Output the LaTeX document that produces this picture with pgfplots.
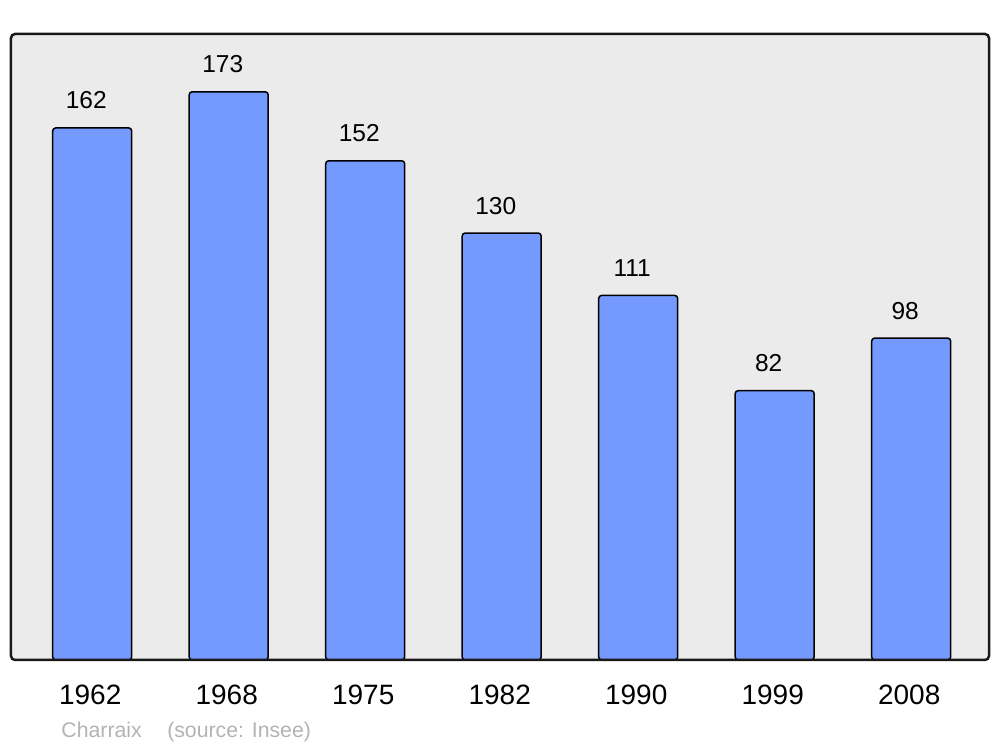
\documentclass[border=0pt]{standalone}
\usepackage{pgfplots}
\pgfplotsset{compat=1.18}
\usepackage{fontspec}
\setmainfont{Liberation Sans}
\definecolor{barblue}{HTML}{7499FF}
\definecolor{panel}{HTML}{EBEBEB}
\definecolor{srcgray}{HTML}{B3B3B3}
\begin{document}
\begin{tikzpicture}
\path[use as bounding box] (0,0) rectangle (400pt,298.8pt);
\begin{axis}[
  at={(4.4pt,34.8pt)}, anchor=south west,
  width=391.2pt, height=250.4pt, scale only axis,
  ybar, bar width=31.6pt,
  xmin=-0.595, xmax=6.57, ymin=0, ymax=190.6,
  axis line style={draw=none},
  axis background/.style={fill=panel},
  ytick=\empty,
  xtick={0,1,2,3,4,5,6},
  xticklabels={1962,1968,1975,1982,1990,1999,2008},
  major tick length=0pt,
  xticklabel style={font=\fontsize{11.2pt}{13pt}\selectfont, anchor=base, yshift=-18pt, xshift=-0.8pt},
  /pgf/number format/assume math mode=true,
  nodes near coords,
  every node near coord/.append style={font=\fontsize{9.8pt}{11pt}\selectfont, anchor=base, yshift=7.6pt, xshift=-2.4pt, inner sep=0pt},
  clip=false,
]
\addplot[fill=barblue, draw=black, line width=0.6pt, rounded corners=1.2pt] coordinates {
  (0,162) (1,173) (2,152) (3,130) (4,111) (5,82) (6,98)
};
\draw[line width=1pt, color=black!90, rounded corners=1.6pt] (rel axis cs:0,0) rectangle (rel axis cs:1,1);
\end{axis}
\node[anchor=base west, inner sep=0pt, text=srcgray, font=\fontsize{8.5pt}{10pt}\selectfont] at (24.4pt,3.6pt) {Charraix\hspace{1.2em}(source: Insee)};
\end{tikzpicture}
\end{document}
